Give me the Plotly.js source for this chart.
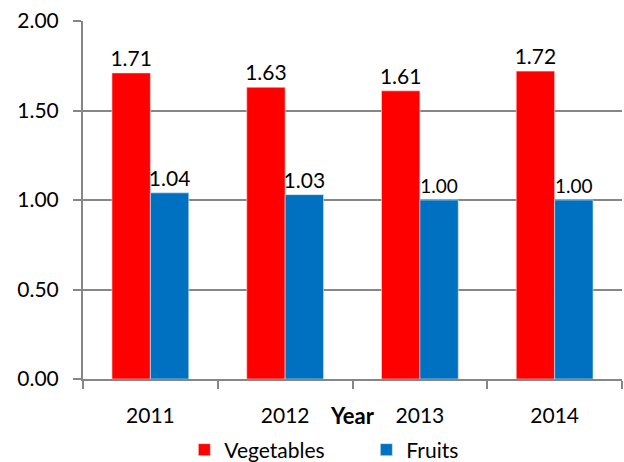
<!DOCTYPE html>
<html>
<head>
<meta charset="utf-8">
<script src="https://cdn.plot.ly/plotly-3.0.1.min.js"></script>
<style>html,body{margin:0;padding:0;background:#fff;}#chart{width:624px;height:462px;}</style>
</head>
<body>
<div id="chart"></div>
<script>
const years = ['2011', '2012', '2013', '2014'];
const vegetables = [1.71, 1.63, 1.61, 1.72];
const fruits = [1.04, 1.03, 1.00, 1.00];
const yTicks = [0, 0.5, 1.0, 1.5, 2.0];
const yTickLabels = ['0.00', '0.50', '1.00', '1.50', '2.00'];

const FONT = 'Lato, "Open Sans", sans-serif';

const traces = [
  {
    type: 'bar', name: 'Vegetables', x: years, y: vegetables,
    marker: {color: '#FF0000', line: {color: '#FFE0E0', width: 0.6}},
    text: vegetables.map(v => v.toFixed(2)), textposition: 'outside', constraintext: 'none',
    textfont: {family: FONT, size: 21, color: '#000'}, cliponaxis: false,
    hoverinfo: 'x+y'
  },
  {
    type: 'bar', name: 'Fruits', x: years, y: fruits,
    marker: {color: '#0070C0', line: {color: '#D6E9F5', width: 0.6}},
    text: fruits.map(v => v.toFixed(2)), textposition: 'outside', constraintext: 'none',
    textfont: {family: FONT, size: [21, 21, 19, 19], color: '#000'}, cliponaxis: false,
    hoverinfo: 'x+y'
  }
];

const layout = {
  width: 624, height: 462, autosize: false,
  margin: {l: 83, r: 2, t: 21, b: 83, pad: 0},
  paper_bgcolor: '#fff', plot_bgcolor: '#fff',
  font: {family: FONT, color: '#000', size: 20},
  barmode: 'group', bargap: 0.43, bargroupgap: 0,
  showlegend: true,
  legend: {orientation: 'h', x: 0.188, xanchor: 'left', xref: 'paper',
           y: 0.026, yanchor: 'middle', yref: 'container',
           font: {family: FONT, size: 21}, itemwidth: 30, entrywidth: 137, traceorder: 'normal',
           tracegroupgap: 0},
  xaxis: {
    type: 'category', showgrid: false, showline: true, linecolor: '#868686', linewidth: 2,
    ticks: 'outside', ticklen: 8, tickcolor: '#868686', tickwidth: 2, tickson: 'boundaries',
    tickfont: {family: FONT, size: 21}, ticklabelstandoff: 17, automargin: 'left',
    title: {text: '<b>Year</b>', font: {family: FONT, size: 22}, standoff: 0}
  },
  yaxis: {
    range: [0, 2], tickvals: yTicks, ticktext: yTickLabels,
    showgrid: true, gridcolor: '#868686', gridwidth: 2,
    showline: true, linecolor: '#868686', linewidth: 2, zeroline: false,
    ticks: 'outside', ticklen: 8, tickcolor: '#868686', tickwidth: 2,
    tickfont: {family: FONT, size: 21}, ticklabelstandoff: 10
  }
};

Plotly.newPlot('chart', traces, layout, {displayModeBar: false, staticPlot: true});
</script>
</body>
</html>
